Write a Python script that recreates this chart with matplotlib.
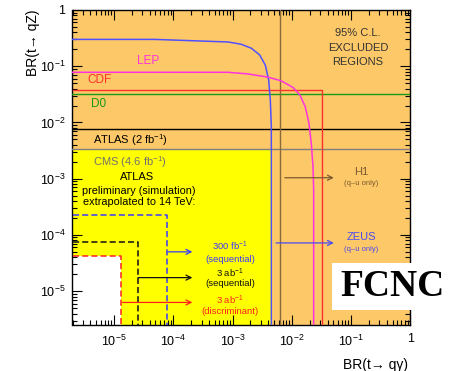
import math
import matplotlib
matplotlib.use("Agg")
import matplotlib.pyplot as plt
from matplotlib.ticker import LogLocator, FuncFormatter, NullFormatter

plt.rcParams['font.family'] = ['Liberation Sans', 'DejaVu Sans']
plt.rcParams['mathtext.fontset'] = 'custom'
plt.rcParams['mathtext.rm'] = 'Liberation Sans'
plt.rcParams['mathtext.it'] = 'Liberation Sans:italic'

# ---- axis ranges ----
x_range = (2e-6, 1.0)
y_range = (2.5e-6, 1.0)

# ---- limit curves (BR(t->q gamma), BR(t->qZ)) ----
blue_curve_x = [2e-6, 4.9e-5, 8.4e-4, 1.4e-3, 2.07e-3, 2.86e-3, 3.56e-3, 4.06e-3, 4.33e-3, 4.5e-3, 4.5e-3]
blue_curve_y = [0.30, 0.30, 0.27, 0.246, 0.209, 0.159, 0.105, 0.057, 0.025, 8.5e-3, 2.5e-6]

lep_x = [2e-6, 8.4e-4, 1.8e-3, 3.95e-3, 6.6e-3, 0.0104, 0.0136, 0.0168, 0.0194, 0.0212, 0.0227, 0.0233, 0.0233]
lep_y = [0.078, 0.078, 0.073, 0.064, 0.055, 0.042, 0.031, 0.019, 9.7e-3, 4.3e-3, 1.65e-3, 6.4e-4, 2.5e-6]

# Tevatron limits
cdf_qz, cdf_qgamma = 0.038, 0.032
d0_qz = 0.032

# LHC qZ limits
atlas_qz = 7.7e-3
cms_qz = 3.4e-3

# HERA q gamma limits
h1_qgamma = 6.2e-3
zeus_qgamma = 5.4e-3
yellow_edge = 4.5e-3

# ATLAS 14 TeV projections: (BR qgamma, BR qZ)
proj_labels = ["300 fb$^{-1}$\n(sequential)", "3 ab$^{-1}$\n(sequential)", "3 ab$^{-1}$\n(discriminant)"]
proj_qgamma = [7.8e-5, 2.5e-5, 1.3e-5]
proj_qz = [2.3e-4, 7.4e-5, 4.2e-5]
proj_colors = ["#3a3aff", "#111111", "#ff2020"]

orange = "#fdc868"
yellow = "#ffff00"

fig = plt.figure(figsize=(4.56, 3.71), dpi=100)
ax = fig.add_axes([72.5/456, 1-325/371, 338/456, 315/371])
ax.set_xscale('log')
ax.set_yscale('log')
ax.set_xlim(*x_range)
ax.set_ylim(*y_range)
ax.set_facecolor(orange)

xmin, ymin = x_range[0], y_range[0]

# allowed / projected regions
ax.fill_between([xmin, yellow_edge], ymin, cms_qz, color=yellow, lw=0, zorder=1)
ax.fill_between([xmin, proj_qgamma[2]], ymin, proj_qz[2], color="white", lw=0, zorder=1.5)

# horizontal limits
ax.axhline(d0_qz, color="#1a9a1a", lw=1.0, zorder=3)
ax.axhline(atlas_qz, color="black", lw=1.0, zorder=3)
ax.axhline(cms_qz, color="#808080", lw=1.0, zorder=3)
ax.axvline(h1_qgamma, color="#8a6a3a", lw=1.0, zorder=3)

# CDF
ax.plot([xmin, cdf_qgamma, cdf_qgamma], [cdf_qz, cdf_qz, ymin], color="#ff3030", lw=1.0, zorder=3)

# curves
ax.plot(blue_curve_x, blue_curve_y, color="#5050ff", lw=1.1, zorder=4)
ax.plot(lep_x, lep_y, color="#ff33dd", lw=1.1, zorder=4)

# projections
for qg, qz, c in zip(proj_qgamma, proj_qz, proj_colors):
    ax.plot([xmin, qg, qg], [qz, qz, ymin], color=c, lw=1.1, ls=(0, (4, 2)), zorder=3)

# arrows
def arrow(x0, x1, y, color):
    ax.annotate("", xy=(x1, y), xytext=(x0, y),
                arrowprops=dict(arrowstyle="->", color=color, lw=0.9, shrinkA=0, shrinkB=0,
                                mutation_scale=9), zorder=5)

arrow(7.6e-3, 0.051, 1.04e-3, "#7a5a30")
arrow(zeus_qgamma, 0.051, 7.2e-5, "#4a4af0")
proj_arrow_y = [5.0e-5, 1.74e-5, 6.3e-6]
proj_arrow_x0 = [8.1e-5, 2.55e-5, 1.4e-5]
for x0, y, c in zip(proj_arrow_x0, proj_arrow_y, proj_colors):
    arrow(x0, 2.1e-4, y, c)

# text labels, placed in axes fractions
T = ax.transAxes
def px(x, y):
    return ((x - 72.5) / 338, (325 - y) / 315)

def txt(x, y, s, color, size, **kw):
    ax.text(*px(x, y), s, color=color, fontsize=size, ha='center', va='center',
            transform=T, zorder=6, **kw)

txt(148, 61, "LEP", "#ff33dd", 8.5)
txt(100, 80, "CDF", "#ff3030", 8.5)
txt(99, 104, "D0", "#1a9a1a", 8.5)
txt(130, 140, "ATLAS (2 fb$^{-1}$)", "black", 8)
txt(130, 162, "CMS (4.6 fb$^{-1}$)", "#707070", 8)
txt(137, 177, "ATLAS", "black", 8)
txt(139, 191, "preliminary (simulation)", "black", 7.8)
txt(139, 202, "extrapolated to 14 TeV:", "black", 7.8)
txt(358, 33, "95% C.L.", "#333333", 8)
txt(358, 48, "EXCLUDED", "#333333", 8)
txt(358, 62, "REGIONS", "#333333", 8)
txt(361, 172, "H1", "#7a5a30", 8)
txt(361, 184, "(q\u2013u only)", "#7a5a30", 5.5)
txt(361, 237, "ZEUS", "#4a4af0", 8)
txt(361, 250, "(q\u2013u only)", "#4a4af0", 5.5)

proj_text_y = [(246.7, 259), (273.3, 284), (300, 311)]
for (y1, y2), lab, c in zip(proj_text_y, proj_labels, proj_colors):
    a, b = lab.split("\n")
    txt(230, y1, a, c, 6.8)
    txt(230, y2, b, c, 6.8)

# ticks
def log_label(v, pos):
    if abs(v - 1) < 1e-9:
        return "1"
    return r"$10^{%d}$" % round(math.log10(v))

for axis in (ax.xaxis, ax.yaxis):
    axis.set_major_locator(LogLocator(base=10, numticks=12))
    axis.set_minor_locator(LogLocator(base=10, subs=range(2, 10), numticks=12))
    axis.set_major_formatter(FuncFormatter(log_label))
    axis.set_minor_formatter(NullFormatter())
ax.tick_params(which='both', direction='in', top=True, right=True, labelsize=9, colors='black')
ax.tick_params(which='major', length=7, width=0.8)
ax.tick_params(which='minor', length=3.5, width=0.8)
ax.tick_params(axis='x', pad=6)
ax.tick_params(axis='y', pad=5)
for s in ax.spines.values():
    s.set_linewidth(1.0)

fig.text(33/456, 1-10/371, "BR(t\u2192 qZ)", rotation=90, ha='center', va='top', fontsize=10)
fig.text(408/456, 1-365/371, "BR(t\u2192 q\u03b3)", ha='right', va='center', fontsize=10)

# FCNC tag
fig.patches.append(plt.Rectangle((332/456, 1-310/371), (456-332)/456, 47/371,
                                 transform=fig.transFigure, facecolor='white', edgecolor='none', zorder=10))
fig.text(393/456, 1-287/371, "FCNC", family="Liberation Serif", weight='bold', fontsize=27,
         ha='center', va='center', zorder=11)

fig.savefig("out.png", dpi=100)
